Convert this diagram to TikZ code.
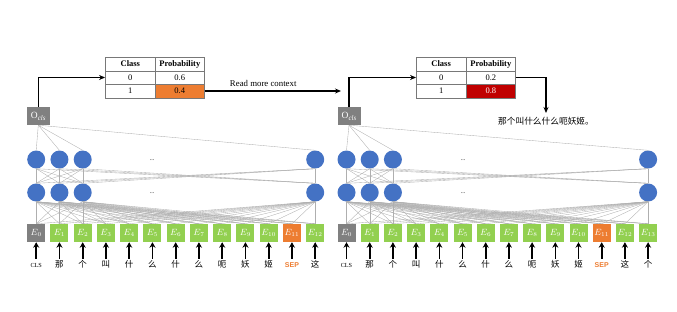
\documentclass[tikz,border=0pt]{standalone}
\usepackage{fontspec}
\setmainfont{Liberation Serif}
\newfontfamily\cjk{Noto Sans CJK SC}
\newfontfamily\sepsans{Liberation Sans}
\usetikzlibrary{arrows.meta}
\definecolor{egreen}{RGB}{146,208,80}
\definecolor{eorange}{RGB}{237,125,49}
\definecolor{egray}{RGB}{128,128,128}
\definecolor{nblue}{RGB}{68,114,196}
\definecolor{dred}{RGB}{192,0,0}
\definecolor{wirec}{RGB}{175,175,175}
\definecolor{gridc}{RGB}{120,120,120}
\newcommand\ocls{O\raisebox{-2pt}{\fontsize{7}{7}\selectfont\itshape cls}}
\begin{document}
\begin{tikzpicture}[x=1pt,y=-1pt,
  emb/.style={rectangle, minimum width=18pt, minimum height=18pt, inner sep=0pt, text=white, font=\fontsize{9}{9}\selectfont},
  neuron/.style={circle, fill=nblue, minimum size=18pt, inner sep=0pt},
  wire/.style={draw=wirec, line width=0.35pt},
  cell/.style={rectangle, draw=gridc, line width=0.5pt, minimum height=13.5pt, inner sep=0pt, font=\fontsize{8.5}{9}\selectfont},
  outbox/.style={rectangle, fill=egray, text=white, minimum width=23pt, minimum height=18pt, inner sep=0pt, font=\fontsize{9.5}{9.5}\selectfont},
  tok/.style={anchor=north, inner sep=0pt, text height=7.5pt, text depth=1pt, font=\cjk\fontsize{8.5}{9}\selectfont},
  clstok/.style={tok, font=\fontsize{6.2}{6.2}\selectfont},
  septok/.style={tok, text=eorange, font=\sepsans\bfseries\fontsize{7}{7}\selectfont},
  inarrow/.style={-{Stealth[length=5.5pt,width=6pt]}, line width=1.6pt, shorten <=1.5pt},
  flow/.style={-{Stealth[length=6pt,width=5pt]}, line width=1.1pt},
  dotsn/.style={inner sep=0pt, font=\fontsize{6}{6}\selectfont}
]
\useasboundingbox (0,0) rectangle (677,311);

% ================= LEFT PANEL =================
\def\lx#1{36.2+23.25*#1}
\node[emb, fill=egray] (LE0) at ({\lx{0}},233) {$E_0$};
\foreach \i in {1,...,10} \node[emb, fill=egreen] (LE\i) at ({\lx{\i}},233) {$E_{\i}$};
\node[emb, fill=eorange] (LE11) at ({\lx{11}},233) {$E_{11}$};
\node[emb, fill=egreen] (LE12) at ({\lx{12}},233) {$E_{12}$};
\node[clstok] (LW0) at ({\lx{0}},260) {CLS};
\foreach \i/\w in {1/那,2/个,3/叫,4/什,5/么,6/什,7/么,8/呃,9/妖,10/姬,12/这}
  \node[tok] (LW\i) at ({\lx{\i}},260) {\w};
\node[septok] (LW11) at ({\lx{11}},260) {SEP};
\foreach \i in {0,...,12} \draw[inarrow] (LW\i.north) -- (LE\i.south);
\foreach \r/\y in {A/159.5,B/192.5}
  \foreach \i in {0,1,2,12}
    \node[neuron] (L\r\i) at ({\lx{\i}},\y) {};
\node[dotsn] (LdA) at (152,160) {...};
\node[dotsn] (LdB) at (152,193) {...};
\node[outbox] (LO) at (38.3,116) {\ocls};
\foreach \i in {0,1,2,12} \draw[wire] (LO.south) -- (LA\i.north);
\foreach \i in {0,1,2,12} \foreach \j in {0,1,2,12} \draw[wire] (LA\i.south) -- (LB\j.north);
\foreach \i in {0,1,2,12} \foreach \j in {0,...,12} \draw[wire] (LB\i.south) -- (LE\j.north);
\node[cell, minimum width=50pt] (Lt11) at (130.3,64) {\textbf{Class}};
\node[cell, minimum width=49pt] (Lt12) at (179.8,64) {\textbf{Probability}};
\node[cell, minimum width=50pt] (Lt21) at (130.3,77.5) {0};
\node[cell, minimum width=49pt] (Lt22) at (179.8,77.5) {0.6};
\node[cell, minimum width=50pt] (Lt31) at (130.3,91) {1};
\node[cell, minimum width=49pt, fill=eorange] (Lt32) at (179.8,91) {0.4};
\draw[flow] (LO.north) |- (Lt21.west);
\coordinate (rmc) at (341,91);
\draw[flow] (Lt32.east) -- node[pos=0.43, above=1pt, font=\fontsize{8.8}{9}\selectfont] (rmclab) {Read more context} (rmc);

% ================= RIGHT PANEL =================
\def\rx#1{346.5+23.2*#1}
\node[emb, fill=egray] (RE0) at ({\rx{0}},233) {$E_0$};
\foreach \i in {1,...,10} \node[emb, fill=egreen] (RE\i) at ({\rx{\i}},233) {$E_{\i}$};
\node[emb, fill=eorange] (RE11) at ({\rx{11}},233) {$E_{11}$};
\node[emb, fill=egreen] (RE12) at ({\rx{12}},233) {$E_{12}$};
\node[emb, fill=egreen] (RE13) at ({\rx{13}},233) {$E_{13}$};
\node[clstok] (RW0) at ({\rx{0}},260) {CLS};
\foreach \i/\w in {1/那,2/个,3/叫,4/什,5/么,6/什,7/么,8/呃,9/妖,10/姬,12/这,13/个}
  \node[tok] (RW\i) at ({\rx{\i}},260) {\w};
\node[septok] (RW11) at ({\rx{11}},260) {SEP};
\foreach \i in {0,...,13} \draw[inarrow] (RW\i.north) -- (RE\i.south);
\foreach \r/\y in {A/159.5,B/192.5}
  \foreach \i in {0,1,2,13}
    \node[neuron] (R\r\i) at ({\rx{\i}},\y) {};
\node[dotsn] (RdA) at (463,160) {...};
\node[dotsn] (RdB) at (463,193) {...};
\node[outbox] (RO) at (349,116) {\ocls};
\foreach \i in {0,1,2,13} \draw[wire] (RO.south) -- (RA\i.north);
\foreach \i in {0,1,2,13} \foreach \j in {0,1,2,13} \draw[wire] (RA\i.south) -- (RB\j.north);
\foreach \i in {0,1,2,13} \foreach \j in {0,...,13} \draw[wire] (RB\i.south) -- (RE\j.north);
\node[cell, minimum width=49.7pt] (Rt11) at (441.15,64) {\textbf{Class}};
\node[cell, minimum width=49.7pt] (Rt12) at (490.85,64) {\textbf{Probability}};
\node[cell, minimum width=49.7pt] (Rt21) at (441.15,77.5) {0};
\node[cell, minimum width=49.7pt] (Rt22) at (490.85,77.5) {0.2};
\node[cell, minimum width=49.7pt] (Rt31) at (441.15,91) {1};
\node[cell, minimum width=49.7pt, fill=dred, text=white] (Rt32) at (490.85,91) {0.8};
\draw[flow] (RO.north) |- (Rt21.west);
\node[anchor=north, inner sep=0pt, font=\cjk\fontsize{8.7}{9}\selectfont] (ans) at (546,117) {那个叫什么什么呃妖姬。};
\draw[flow, shorten >=4pt] (Rt22.east) -| (ans.north);
\end{tikzpicture}
\end{document}
